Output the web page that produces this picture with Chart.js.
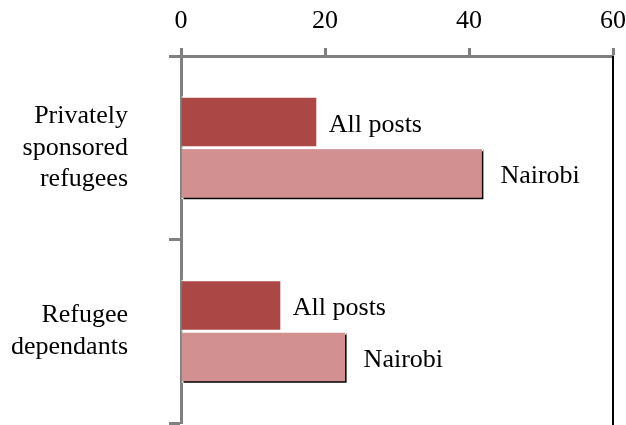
<!DOCTYPE html>
<html>
<head>
<meta charset="utf-8">
<script src="https://cdn.jsdelivr.net/npm/chart.js@4/dist/chart.umd.min.js"></script>
<style>
  html, body { margin: 0; padding: 0; background: #fff; }
  #wrap { position: relative; width: 626px; height: 425px; }
</style>
</head>
<body>
<div id="wrap"><canvas id="refugee-chart"></canvas></div>
<script>
// categories and series
const categories = [['Privately', 'sponsored', 'refugees'], ['Refugee', 'dependants']];
const allPosts = [19, 14];
const nairobi = [42, 23];
const seriesNames = ['All posts', 'Nairobi'];
const xTicks = [0, 20, 40, 60];

const serif = 'Liberation Serif, DejaVu Serif, serif';

// dark edge under the light bars
const barShadow = {
    id: 'barShadow',
    beforeDatasetDraw(chart, args) {
        if (args.index !== 1) return;
        const ctx = chart.ctx;
        ctx.save();
        ctx.shadowColor = '#000';
        ctx.shadowOffsetX = 2;
        ctx.shadowOffsetY = 2;
        ctx.shadowBlur = 0;
    },
    afterDatasetDraw(chart, args) {
        if (args.index !== 1) return;
        chart.ctx.restore();
    }
};

// series name written at the end of each bar
const barNames = {
    id: 'barNames',
    afterDatasetsDraw(chart) {
        const ctx = chart.ctx;
        ctx.save();
        ctx.font = '26px ' + serif;
        ctx.fillStyle = '#000';
        ctx.textBaseline = 'middle';
        ctx.textAlign = 'left';
        chart.data.datasets.forEach(function (ds, i) {
            chart.getDatasetMeta(i).data.forEach(function (bar) {
                ctx.fillText(ds.label, bar.x + (i === 0 ? 11 : 17), bar.y + 3);
            });
        });
        ctx.restore();
    }
};

// black frame line on the right of the plot
const rightEdge = {
    id: 'rightEdge',
    afterDraw(chart) {
        const a = chart.chartArea;
        const ctx = chart.ctx;
        ctx.save();
        ctx.strokeStyle = '#000';
        ctx.lineWidth = 2;
        ctx.beginPath();
        ctx.moveTo(a.right, a.top);
        ctx.lineTo(a.right, chart.height);
        ctx.stroke();
        ctx.restore();
    }
};

document.addEventListener('DOMContentLoaded', function () {
    const ctx = document.getElementById('refugee-chart').getContext('2d');
    if (!ctx || typeof Chart === 'undefined') return;

    new Chart(ctx, {
        type: 'bar',
        data: {
            labels: categories,
            datasets: [{
                label: seriesNames[0],
                data: allPosts,
                backgroundColor: '#AB4745',
                borderColor: '#ffffff',
                borderWidth: 1.5,
                barPercentage: 1,
                categoryPercentage: 0.56
            }, {
                label: seriesNames[1],
                data: nairobi,
                backgroundColor: '#D39091',
                borderColor: '#ffffff',
                borderWidth: 1.5,
                barPercentage: 1,
                categoryPercentage: 0.56
            }]
        },
        options: {
            indexAxis: 'y',
            responsive: true,
            maintainAspectRatio: false,
            animation: false,
            layout: { autoPadding: false, padding: { top: 5, right: 13, bottom: 2, left: 0 } },
            plugins: {
                legend: { display: false },
                tooltip: { enabled: false }
            },
            scales: {
                x: {
                    position: 'top',
                    min: 0,
                    max: 60,
                    afterBuildTicks: function (axis) {
                        axis.ticks = xTicks.map(function (v) { return { value: v }; });
                    },
                    afterFit: function (scale) {
                        scale.height = 51;
                        scale.paddingLeft = 0;
                        scale.paddingRight = 0;
                    },
                    ticks: {
                        color: '#000',
                        padding: 11,
                        font: { family: serif, size: 26, lineHeight: 1.2 }
                    },
                    grid: {
                        drawOnChartArea: false,
                        drawTicks: true,
                        tickLength: 8,
                        tickColor: '#808080',
                        tickWidth: 3
                    },
                    border: { color: '#808080', width: 3 }
                },
                y: {
                    position: 'left',
                    afterFit: function (scale) {
                        scale.width = 181;
                        scale.paddingTop = 0;
                        scale.paddingBottom = 0;
                    },
                    ticks: {
                        color: '#000',
                        padding: 41,
                        font: { family: serif, size: 26, lineHeight: 1.2 }
                    },
                    grid: {
                        offset: true,
                        drawOnChartArea: false,
                        drawTicks: true,
                        tickLength: 12,
                        tickColor: '#808080',
                        tickWidth: 3
                    },
                    border: { color: '#808080', width: 3 }
                }
            }
        },
        plugins: [barShadow, barNames, rightEdge]
    });
});
</script>
</body>
</html>
